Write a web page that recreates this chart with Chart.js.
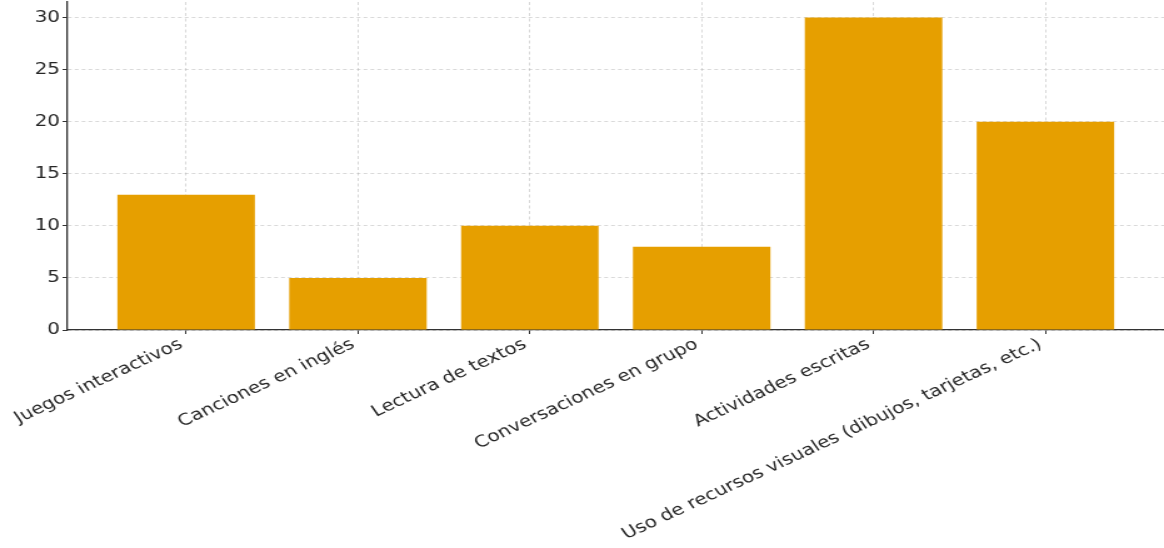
<!DOCTYPE html>
<html>
<head>
<meta charset="utf-8">
<script src="https://cdnjs.cloudflare.com/ajax/libs/Chart.js/4.4.1/chart.umd.min.js"></script>
<style>
  html, body { margin: 0; padding: 0; background: #fff; }
</style>
</head>
<body>
<canvas id="grafico" width="931" height="548" style="width:1164px;height:548px"></canvas>
<script>
// datos
var categorias = [
    "Juegos interactivos",
    "Canciones en inglés",
    "Lectura de textos",
    "Conversaciones en grupo",
    "Actividades escritas",
    "Uso de recursos visuales (dibujos, tarjetas, etc.)"
];
var valores = [13, 5, 10, 8, 30, 20];
var marcasY = [0, 5, 10, 15, 20, 25, 30];

var fuente = { family: "DejaVu Sans", size: 16 };
var colorTexto = "#262626";
var colorGrid = "rgba(170,170,170,0.45)";

var puntos = valores.map(function (v, i) { return { x: i, y: v }; });

var ctx1 = document.getElementById("grafico").getContext("2d");
window.myBar = new Chart(ctx1, {
    type: "bar",
    data: {
        datasets: [{
            data: puntos,
            backgroundColor: "#E69F00",
            borderWidth: 0,
            barPercentage: 0.8,
            categoryPercentage: 1.0
        }]
    },
    options: {
        responsive: false,
        devicePixelRatio: 1,
        animation: false,
        layout: { padding: { top: 2, left: 0, right: 0, bottom: 0 } },
        plugins: {
            legend: { display: false },
            title: { display: false },
            tooltip: { enabled: false }
        },
        scales: {
            x: {
                type: "linear",
                min: -0.69,
                max: 5.69,
                offset: false,
                z: 1,
                afterBuildTicks: function (axis) {
                    axis.ticks = categorias.map(function (_, i) { return { value: i }; });
                },
                afterFit: function (axis) {
                    axis.height = 218;
                    axis.paddingLeft = 0;
                    axis.paddingRight = 0;
                },
                grid: {
                    offset: false,
                    color: colorGrid,
                    lineWidth: 1,
                    drawTicks: true,
                    tickLength: 4,
                    tickColor: "#333",
                    tickWidth: 1
                },
                border: { display: true, color: "#333", width: 1.3, dash: [3, 2.5] },
                ticks: {
                    autoSkip: false,
                    minRotation: 30,
                    maxRotation: 30,
                    padding: 1,
                    labelOffset: -4,
                    color: colorTexto,
                    font: fuente,
                    callback: function (value) { return categorias[value]; }
                }
            },
            y: {
                min: 0,
                max: 31.5,
                z: 1,
                afterBuildTicks: function (axis) {
                    axis.ticks = marcasY.map(function (v) { return { value: v }; });
                },
                afterFit: function (axis) {
                    axis.width = 54;
                    axis.paddingTop = 0;
                    axis.paddingBottom = 0;
                },
                grid: {
                    color: colorGrid,
                    lineWidth: 1,
                    drawTicks: true,
                    tickLength: 4,
                    tickColor: "#333",
                    tickWidth: 1
                },
                border: { display: true, color: "#333", width: 1.3, dash: [3, 2.5] },
                ticks: {
                    padding: 2,
                    color: colorTexto,
                    font: fuente
                }
            }
        }
    }
});
</script>
</body>
</html>
